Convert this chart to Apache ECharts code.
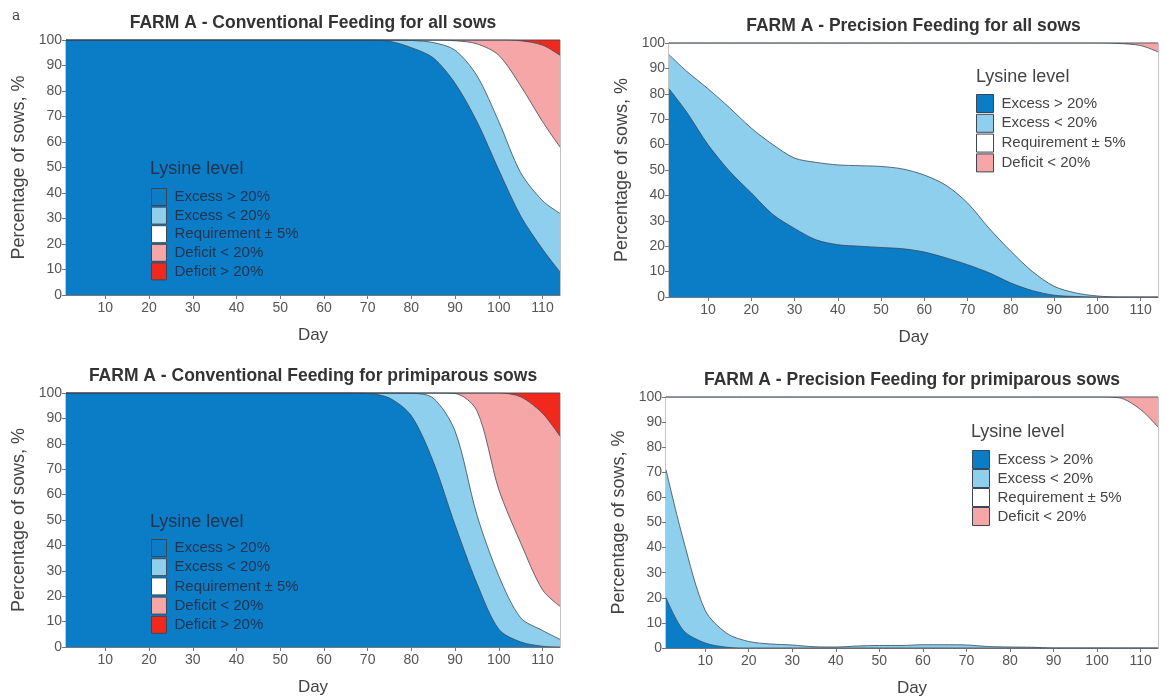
<!DOCTYPE html>
<html>
<head>
<meta charset="utf-8">
<script src="https://cdn.jsdelivr.net/npm/echarts@6/dist/echarts.min.js"></script>
<style>
    body { margin: 0; background: #fff; }
    #farm_a_con { width: 1166px; height: 698px; }
</style>
</head>
<body>
<div id="farm_a_con"></div>
<script>
const days = [1, 5, 10, 15, 20, 25, 30, 35, 40, 45, 50, 55, 60, 65, 70, 75, 80, 85, 90, 95, 100, 105, 110, 114];
const dayTicks = [10, 20, 30, 40, 50, 60, 70, 80, 90, 100, 110];
const levels = ['Excess > 20%', 'Excess < 20%', 'Requirement ± 5%', 'Deficit < 20%', 'Deficit > 20%'];
const colors = ['#0b7dc6', '#8fcfee', '#ffffff', '#f6a6a6', '#f2281d'];

// conventional feeding, all sows
const convAllExHi = [100, 100, 100, 100, 100, 100, 100, 100, 100, 100, 100, 100, 100, 100, 100, 99.5, 97, 93, 83, 68, 49, 31, 18, 9];
const convAllExLo = [0, 0, 0, 0, 0, 0, 0, 0, 0, 0, 0, 0, 0, 0, 0, 0.5, 2.8, 6, 13, 18, 19, 17, 19, 23];
const convAllReq = [0, 0, 0, 0, 0, 0, 0, 0, 0, 0, 0, 0, 0, 0, 0, 0, 0.2, 1, 3.7, 12.5, 26, 34, 31, 26];
const convAllDefLo = [0, 0, 0, 0, 0, 0, 0, 0, 0, 0, 0, 0, 0, 0, 0, 0, 0, 0, 0.3, 1.5, 6, 17.7, 30, 36];
const convAllDefHi = [0, 0, 0, 0, 0, 0, 0, 0, 0, 0, 0, 0, 0, 0, 0, 0, 0, 0, 0, 0, 0, 0.3, 2, 6];

// precision feeding, all sows
const precAllExHi = [82, 73, 60, 49.5, 41, 32.5, 27, 22.5, 20.6, 20, 19.5, 19, 17.7, 15.4, 12.7, 9.5, 5.5, 2.5, 0.7, 0.2, 0, 0, 0, 0];
const precAllExLo = [13.4, 16, 22, 25, 25.5, 27.5, 27.7, 30.5, 31.4, 31.7, 31.9, 31.4, 30.3, 28.6, 24.3, 17.5, 12.5, 7.5, 3.5, 1.4, 0.4, 0, 0, 0];
const precAllReq = [4.6, 11, 18, 25.5, 33.5, 40, 45.3, 47, 48, 48.3, 48.6, 49.6, 52, 56, 63, 73, 82, 90, 95.8, 98.4, 99.6, 99.8, 99, 96.5];
const precAllDefLo = [0, 0, 0, 0, 0, 0, 0, 0, 0, 0, 0, 0, 0, 0, 0, 0, 0, 0, 0, 0, 0, 0.2, 1, 3.5];

// conventional feeding, primiparous sows
const convPrimExHi = [100, 100, 100, 100, 100, 100, 100, 100, 100, 100, 100, 100, 100, 100, 99.8, 98, 91, 73, 48, 25, 7, 2, 0.3, 0];
const convPrimExLo = [0, 0, 0, 0, 0, 0, 0, 0, 0, 0, 0, 0, 0, 0, 0.2, 2, 8.9, 25, 37, 27, 21, 9.5, 6.2, 3];
const convPrimReq = [0, 0, 0, 0, 0, 0, 0, 0, 0, 0, 0, 0, 0, 0, 0, 0, 0.1, 2, 14.8, 41, 34, 29.5, 16, 13];
const convPrimDefLo = [0, 0, 0, 0, 0, 0, 0, 0, 0, 0, 0, 0, 0, 0, 0, 0, 0, 0, 0.2, 7, 38, 57.5, 69.5, 67];
const convPrimDefHi = [0, 0, 0, 0, 0, 0, 0, 0, 0, 0, 0, 0, 0, 0, 0, 0, 0, 0, 0, 0, 0, 1.5, 8, 17];

// precision feeding, primiparous sows
const precPrimExHi = [20, 7, 2, 0.3, 0, 0, 0, 0, 0, 0, 0, 0, 0, 0, 0, 0, 0, 0, 0, 0, 0, 0, 0, 0];
const precPrimExLo = [51, 36, 13, 5.5, 2.6, 1.6, 1.2, 0.5, 0.4, 0.8, 1, 1, 1.3, 1.3, 1.2, 0.6, 0.4, 0.3, 0, 0, 0, 0, 0, 0];
const precPrimReq = [29, 57, 85, 94.2, 97.4, 98.4, 98.8, 99.5, 99.6, 99.2, 99, 99, 98.7, 98.7, 98.8, 99.4, 99.6, 99.7, 100, 100, 100, 99.7, 95, 88];
const precPrimDefLo = [0, 0, 0, 0, 0, 0, 0, 0, 0, 0, 0, 0, 0, 0, 0, 0, 0, 0, 0, 0, 0, 0.3, 5, 12];

const panels = [
    {
        title: 'FARM A - Conventional Feeding for all sows',
        grid: {left: 66, top: 40, width: 494, height: 255},
        bands: [convAllExHi, convAllExLo, convAllReq, convAllDefLo, convAllDefHi],
        legend: {left: 151, top: 188, size: [15, 17], gap: 0.6, color: '#22344f'},
        legendTitle: [150, 169]
    },
    {
        title: 'FARM A - Precision Feeding for all sows',
        grid: {left: 669, top: 43, width: 489, height: 254},
        bands: [precAllExHi, precAllExLo, precAllReq, precAllDefLo],
        legend: {left: 976, top: 94, size: [17, 18], gap: 0.8, color: '#444'},
        legendTitle: [976, 77]
    },
    {
        title: 'FARM A - Conventional Feeding for primiparous sows',
        grid: {left: 66, top: 393, width: 494, height: 254},
        bands: [convPrimExHi, convPrimExLo, convPrimReq, convPrimDefLo, convPrimDefHi],
        legend: {left: 151, top: 539, size: [15, 17], gap: 1.2, color: '#22344f'},
        legendTitle: [150, 522]
    },
    {
        title: 'FARM A - Precision Feeding for primiparous sows',
        grid: {left: 666, top: 397, width: 492, height: 253},
        bands: [precPrimExHi, precPrimExLo, precPrimReq, precPrimDefLo],
        legend: {left: 972, top: 450, size: [17, 18], gap: 0, color: '#444'},
        legendTitle: [971, 432]
    }
];

const font = 'Arial, "Liberation Sans", sans-serif';
const grids = [], xAxes = [], yAxes = [], series = [], legends = [], texts = [];

panels.forEach((p, i) => {
    grids.push(Object.assign({show: true, borderColor: '#8a8a8a', borderWidth: 1, backgroundColor: '#fff'}, p.grid));
    xAxes.push({
        type: 'value',
        gridIndex: i,
        min: 1,
        max: 114,
        name: 'Day',
        nameLocation: 'middle',
        nameGap: 32,
        nameTextStyle: {fontSize: 17, color: '#444', fontFamily: font},
        axisLine: {lineStyle: {color: '#777'}},
        axisTick: {length: 4, lineStyle: {color: '#777'}, customValues: dayTicks},
        axisLabel: {fontSize: 14, color: '#555', fontFamily: font, margin: 6, customValues: dayTicks},
        splitLine: {show: false}
    });
    yAxes.push({
        type: 'value',
        gridIndex: i,
        min: 0,
        max: 100,
        interval: 10,
        name: 'Percentage of sows, %',
        nameLocation: 'middle',
        nameGap: 38,
        nameTextStyle: {fontSize: 18, color: '#444', fontFamily: font},
        axisLine: {show: true, lineStyle: {color: '#777'}},
        axisTick: {show: true, length: 4, lineStyle: {color: '#777'}},
        axisLabel: {fontSize: 14, color: '#555', fontFamily: font, margin: 4},
        splitLine: {show: false}
    });
    // cumulative share of sows up to each lysine level; the highest band is painted first
    let running = days.map(() => 0);
    const tops = p.bands.map((vals) => {
        running = running.map((r, j) => r + vals[j]);
        return running;
    });
    for (let k = p.bands.length - 1; k >= 0; k--) {
        series.push({
            name: levels[k],
            type: 'line',
            xAxisIndex: i,
            yAxisIndex: i,
            smooth: 0.3,
            showSymbol: false,
            color: colors[k],
            lineStyle: {color: '#3b4756', width: 0.8},
            areaStyle: {color: colors[k], opacity: 1, origin: 'start'},
            data: days.map((d, j) => [d, Math.min(100, tops[k][j])])
        });
    }
    legends.push({
        orient: 'vertical',
        left: p.legend.left,
        top: p.legend.top,
        itemWidth: p.legend.size[0],
        itemHeight: p.legend.size[1],
        itemGap: p.legend.gap,
        icon: 'rect',
        selectedMode: false,
        padding: 0,
        itemStyle: {borderColor: '#3b4756', borderWidth: 1},
        textStyle: {fontSize: 15, color: p.legend.color, fontFamily: font, padding: [0, 0, 0, 3]},
        data: levels.slice(0, p.bands.length)
    });
    texts.push({
        type: 'text',
        x: p.grid.left + p.grid.width / 2,
        y: p.grid.top - 17,
        style: {text: p.title, fill: '#333', font: 'bold 17.5px ' + font, textAlign: 'center', textVerticalAlign: 'middle'}
    });
    texts.push({
        type: 'text',
        x: p.legendTitle[0],
        y: p.legendTitle[1],
        z: 100,
        style: {text: 'Lysine level', font: '18px ' + font, fill: p.legend.color, textVerticalAlign: 'middle'}
    });
});

texts.push({type: 'text', x: 12, y: 9, style: {text: 'a', font: '14px "DejaVu Serif", serif', fill: '#444'}});

const option = {
    animation: false,
    grid: grids,
    xAxis: xAxes,
    yAxis: yAxes,
    legend: legends,
    series: series,
    graphic: texts
};

const farmChart = echarts.init(document.getElementById('farm_a_con'));
farmChart.setOption(option);
window.addEventListener('resize', function () {
    farmChart.resize();
});
</script>
</body>
</html>
